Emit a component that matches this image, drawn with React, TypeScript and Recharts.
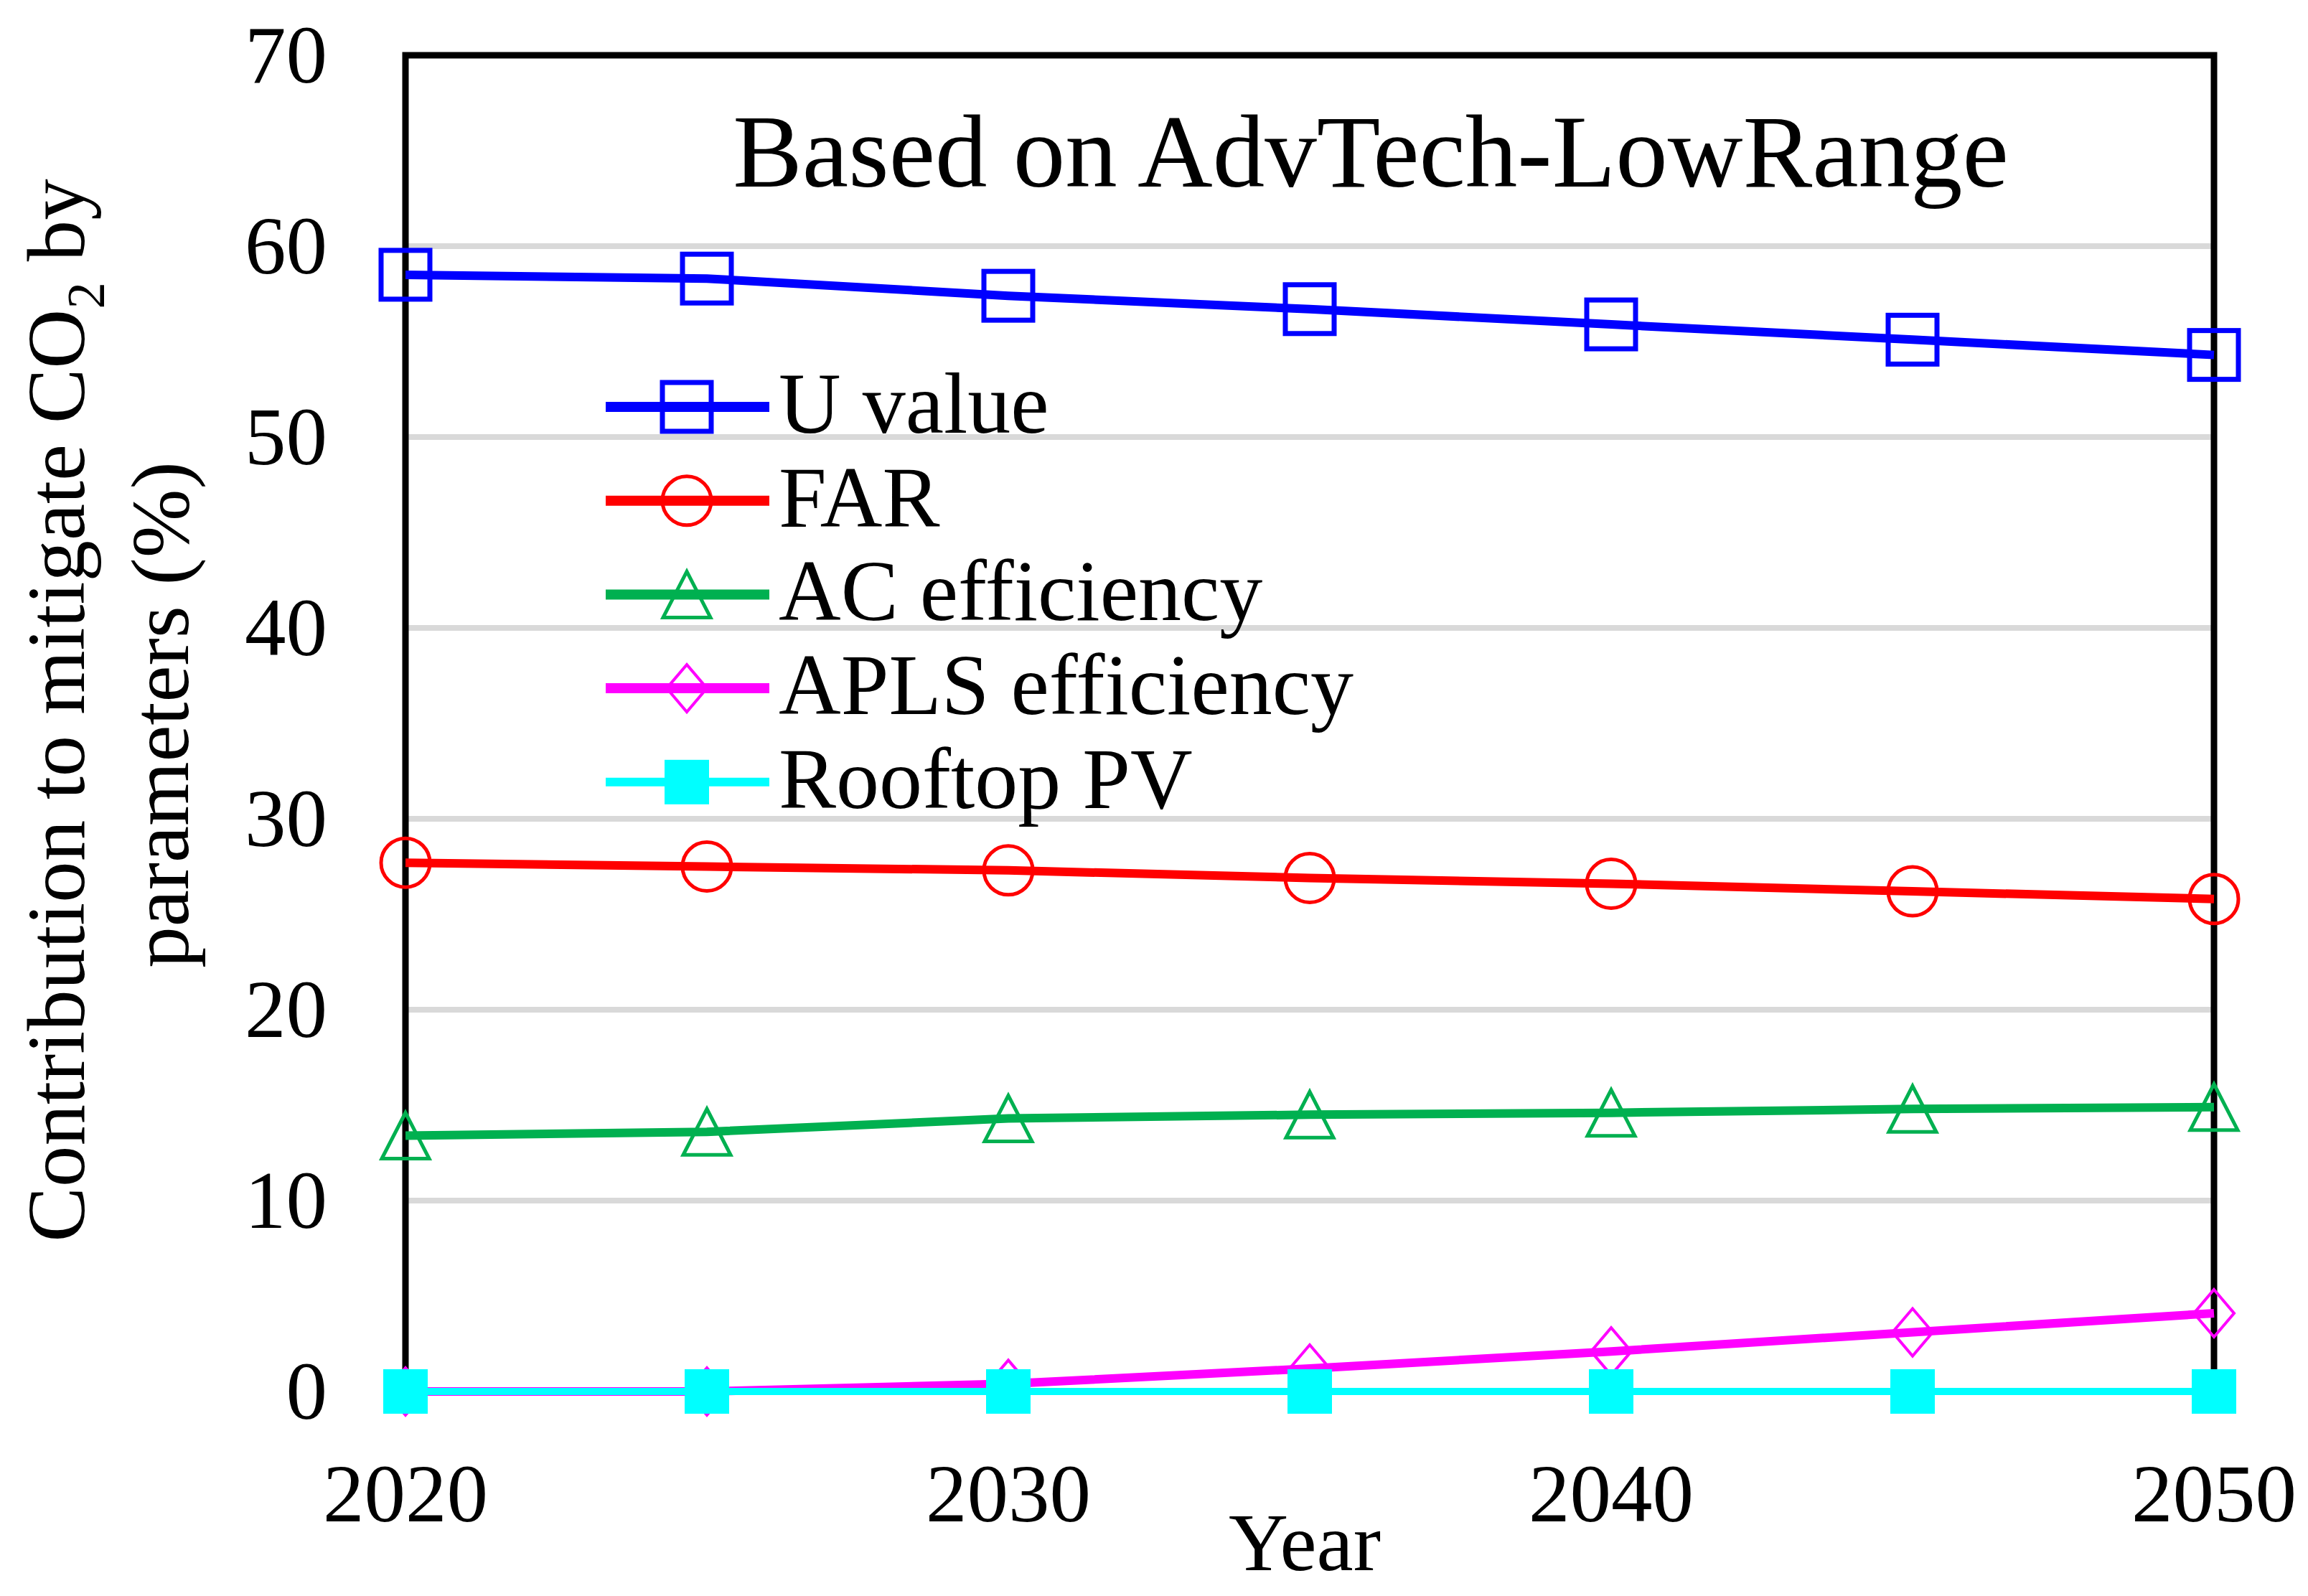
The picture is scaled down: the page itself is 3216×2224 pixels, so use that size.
import React from 'react';
import { LineChart, Line, XAxis, YAxis, CartesianGrid, ReferenceArea, Legend, Customized } from 'recharts';

const years = [2020, 2025, 2030, 2035, 2040, 2045, 2050];
const uValue = [58.5, 58.3, 57.4, 56.7, 55.9, 55.1, 54.3];
const far = [27.7, 27.5, 27.3, 26.9, 26.6, 26.2, 25.8];
const acEff = [13.4, 13.6, 14.3, 14.5, 14.6, 14.8, 14.9];
const aplsEff = [0, 0, 0.4, 1.2, 2.1, 3.1, 4.1];
const rooftopPV = [0, 0, 0, 0, 0, 0, 0];
const xTicks = [2020, 2030, 2040, 2050];
const yTicks = [0, 10, 20, 30, 40, 50, 60, 70];

const seriesNames = ['U value', 'FAR', 'AC efficiency', 'APLS efficiency', 'Rooftop PV'];
const seriesKeys = ['u', 'far', 'ac', 'apls', 'pv'];
const seriesColors = ['#0000FF', '#FF0000', '#00B050', '#FF00FF', '#00FFFF'];
const seriesShapes = ['square', 'circle', 'triangle', 'diamond', 'filledSquare'];

const data = years.map((y, i) => ({
  year: y,
  u: uValue[i],
  far: far[i],
  ac: acEff[i],
  apls: aplsEff[i],
  pv: rooftopPV[i],
}));

const FONT = '"Liberation Serif", "Times New Roman", serif';
const W = 3200;
const H = 2208;

function Marker({ shape, cx, cy, color }: { shape: string; cx: number; cy: number; color: string }) {
  if (shape === 'square') {
    const s = 68;
    return <rect x={cx - s / 2} y={cy - s / 2} width={s} height={s} fill="none" stroke={color} strokeWidth={7} />;
  }
  if (shape === 'circle') {
    return <ellipse cx={cx} cy={cy} rx={34} ry={34} fill="none" stroke={color} strokeWidth={5} />;
  }
  if (shape === 'triangle') {
    const w = 66, h = 64;
    const pts = `${cx},${cy - h / 2} ${cx + w / 2},${cy + h / 2} ${cx - w / 2},${cy + h / 2}`;
    return <polygon points={pts} fill="none" stroke={color} strokeWidth={5} />;
  }
  if (shape === 'diamond') {
    const w = 56, h = 66;
    const pts = `${cx},${cy - h / 2} ${cx + w / 2},${cy} ${cx},${cy + h / 2} ${cx - w / 2},${cy}`;
    return <polygon points={pts} fill="none" stroke={color} strokeWidth={4} />;
  }
  const s = 62;
  return <rect x={cx - s / 2} y={cy - s / 2} width={s} height={s} fill={color} stroke="none" />;
}

const makeDot = (shape: string, color: string) => (props: any) => {
  const { cx, cy, index } = props;
  if (cx == null || cy == null) return <g key={`d-${index}`} />;
  return (
    <g key={`d-${shape}-${index}`}>
      <Marker shape={shape} cx={cx} cy={cy} color={color} />
    </g>
  );
};

const XTick = (props: any) => {
  const { x, payload } = props;
  return (
    <text x={x} y={2112} textAnchor="middle" fontFamily={FONT} fontSize={115} fill="#000">
      {payload.value}
    </text>
  );
};

const YTick = (props: any) => {
  const { y, payload } = props;
  return (
    <text x={448} y={y + 38} textAnchor="end" fontFamily={FONT} fontSize={115} fill="#000">
      {payload.value}
    </text>
  );
};

const LEG_LEFT = 800;
const LEG_TOP = 450;

const LegendContent = () => {
  const rowStart = 559 - LEG_TOP;
  const step = 130.7;
  return (
    <svg width={1200} height={750} style={{ overflow: 'visible', display: 'block' }}>
      {seriesNames.map((name, i) => {
        const cy = rowStart + i * step;
        const color = seriesColors[i];
        return (
          <g key={name}>
            <line x1={836 - LEG_LEFT} x2={1064 - LEG_LEFT} y1={cy} y2={cy} stroke={color} strokeWidth={i === 4 ? 12 : 14} />
            <Marker shape={seriesShapes[i]} cx={949 - LEG_LEFT} cy={cy} color={color} />
            <text x={1077 - LEG_LEFT} y={cy + 36} fontFamily={FONT} fontSize={120} fill="#000">
              {name}
            </text>
          </g>
        );
      })}
    </svg>
  );
};

const Texts = () => (
  <g>
    <text x={1902} y={252} textAnchor="middle" fontFamily={FONT} fontSize={145} fill="#000">
      Based on AdvTech-LowRange
    </text>
    <text x={1810} y={2180} textAnchor="middle" fontFamily={FONT} fontSize={115} fill="#000">
      Year
    </text>
    <text
      transform="translate(109, 982) rotate(-90)"
      textAnchor="middle"
      fontFamily={FONT}
      fontSize={115}
      fill="#000"
    >
      <tspan>Contribution to mitigate  CO</tspan>
      <tspan fontSize={75} dy={28}>2</tspan>
      <tspan dy={-28}> by</tspan>
    </text>
    <text
      transform="translate(254, 988) rotate(-90)"
      textAnchor="middle"
      fontFamily={FONT}
      fontSize={115}
      fill="#000"
    >
      parameters (%)
    </text>
  </g>
);

export default function App() {
  return (
    <div style={{ width: W, height: H, position: 'relative', background: '#fff' }}>
      <LineChart
        width={W}
        height={H}
        data={data}
        margin={{ top: 69, right: 123, bottom: 77, left: 0 }}
      >
        <CartesianGrid horizontal vertical={false} stroke="#D9D9D9" strokeWidth={8} />
        <XAxis
          dataKey="year"
          type="number"
          domain={[2020, 2050]}
          ticks={xTicks}
          height={200}
          axisLine={false}
          tickLine={false}
          tick={<XTick />}
          interval={0}
        />
        <YAxis
          type="number"
          domain={[0, 70]}
          ticks={yTicks}
          width={557}
          axisLine={false}
          tickLine={false}
          tick={<YTick />}
          interval={0}
        />
        <ReferenceArea x1={2020} x2={2050} y1={0} y2={70} fill="none" stroke="#000" strokeWidth={9} ifOverflow="visible" />
        {seriesKeys.map((k, i) => (
          <Line
            key={k}
            dataKey={k}
            name={seriesNames[i]}
            stroke={seriesColors[i]}
            strokeWidth={i === 4 ? 10 : 12}
            dot={makeDot(seriesShapes[i], seriesColors[i])}
            activeDot={false}
            isAnimationActive={false}
            type="linear"
          />
        ))}
        <Legend
          layout="vertical"
          align="center"
          verticalAlign="middle"
          content={<LegendContent />}
          wrapperStyle={{ position: 'absolute', left: LEG_LEFT, top: LEG_TOP, width: 1200, height: 750 }}
        />
        <Customized component={<Texts />} />
      </LineChart>
    </div>
  );
}
